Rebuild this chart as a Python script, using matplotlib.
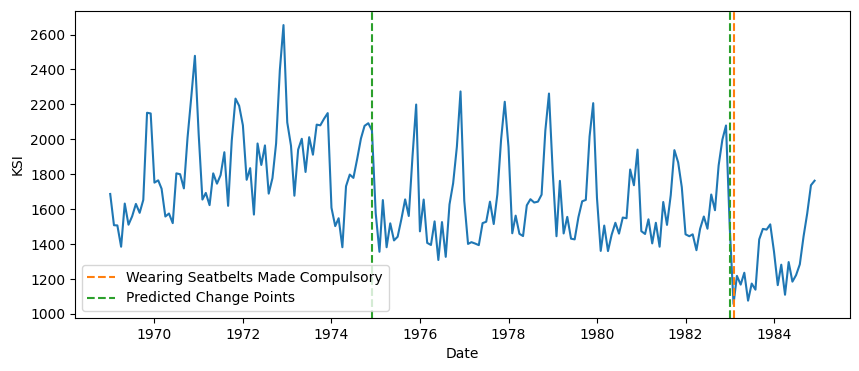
import numpy as np
import pandas as pd
import matplotlib
matplotlib.use("Agg")
import matplotlib.pyplot as plt

# UK drivers killed or seriously injured, monthly 1969-1984
ksi = [
    1687, 1508, 1507, 1385, 1632, 1511, 1559, 1630, 1579, 1653, 2152, 2148,
    1752, 1765, 1717, 1558, 1575, 1520, 1805, 1800, 1719, 2008, 2242, 2478,
    2030, 1655, 1693, 1623, 1805, 1746, 1795, 1926, 1619, 1992, 2233, 2192,
    2080, 1768, 1835, 1569, 1976, 1853, 1965, 1689, 1778, 1976, 2397, 2654,
    2097, 1963, 1677, 1941, 2003, 1813, 2012, 1912, 2084, 2080, 2118, 2150,
    1608, 1503, 1548, 1382, 1731, 1798, 1779, 1887, 2004, 2077, 2092, 2051,
    1577, 1356, 1652, 1382, 1519, 1421, 1442, 1543, 1656, 1561, 1905, 2199,
    1473, 1655, 1407, 1395, 1530, 1309, 1526, 1327, 1627, 1748, 1958, 2274,
    1648, 1401, 1411, 1403, 1394, 1520, 1528, 1643, 1515, 1685, 2000, 2215,
    1956, 1462, 1563, 1459, 1446, 1622, 1657, 1638, 1643, 1683, 2050, 2262,
    1813, 1445, 1762, 1461, 1556, 1431, 1427, 1554, 1645, 1653, 2016, 2207,
    1665, 1361, 1506, 1360, 1453, 1522, 1460, 1552, 1548, 1827, 1737, 1941,
    1474, 1458, 1542, 1404, 1522, 1385, 1641, 1510, 1681, 1938, 1868, 1726,
    1456, 1445, 1456, 1365, 1487, 1558, 1488, 1684, 1594, 1850, 1998, 2079,
    1494, 1057, 1218, 1168, 1236, 1076, 1174, 1139, 1427, 1487, 1483, 1513,
    1357, 1165, 1282, 1110, 1297, 1185, 1222, 1284, 1444, 1575, 1737, 1763,
]
dates = pd.date_range("1969-01-01", periods=len(ksi), freq="MS")

law_date = pd.Timestamp("1983-02-01")
change_points = [pd.Timestamp("1974-12-01"), pd.Timestamp("1983-01-01")]

fig = plt.figure(figsize=(8.59, 3.71), dpi=100)
ax = fig.add_axes([0.0873, 0.143, 0.902, 0.827])

ax.plot(dates, ksi)
ax.axvline(law_date, color="C1", linestyle="--", label="Wearing Seatbelts Made Compulsory")
for i, cp in enumerate(change_points):
    ax.axvline(cp, color="C2", linestyle="--",
               label="Predicted Change Points" if i == 0 else None)

ax.set_xlabel("Date")
ax.set_ylabel("KSI")
ax.legend(loc="lower left")

fig.savefig("out.png", dpi=100)
